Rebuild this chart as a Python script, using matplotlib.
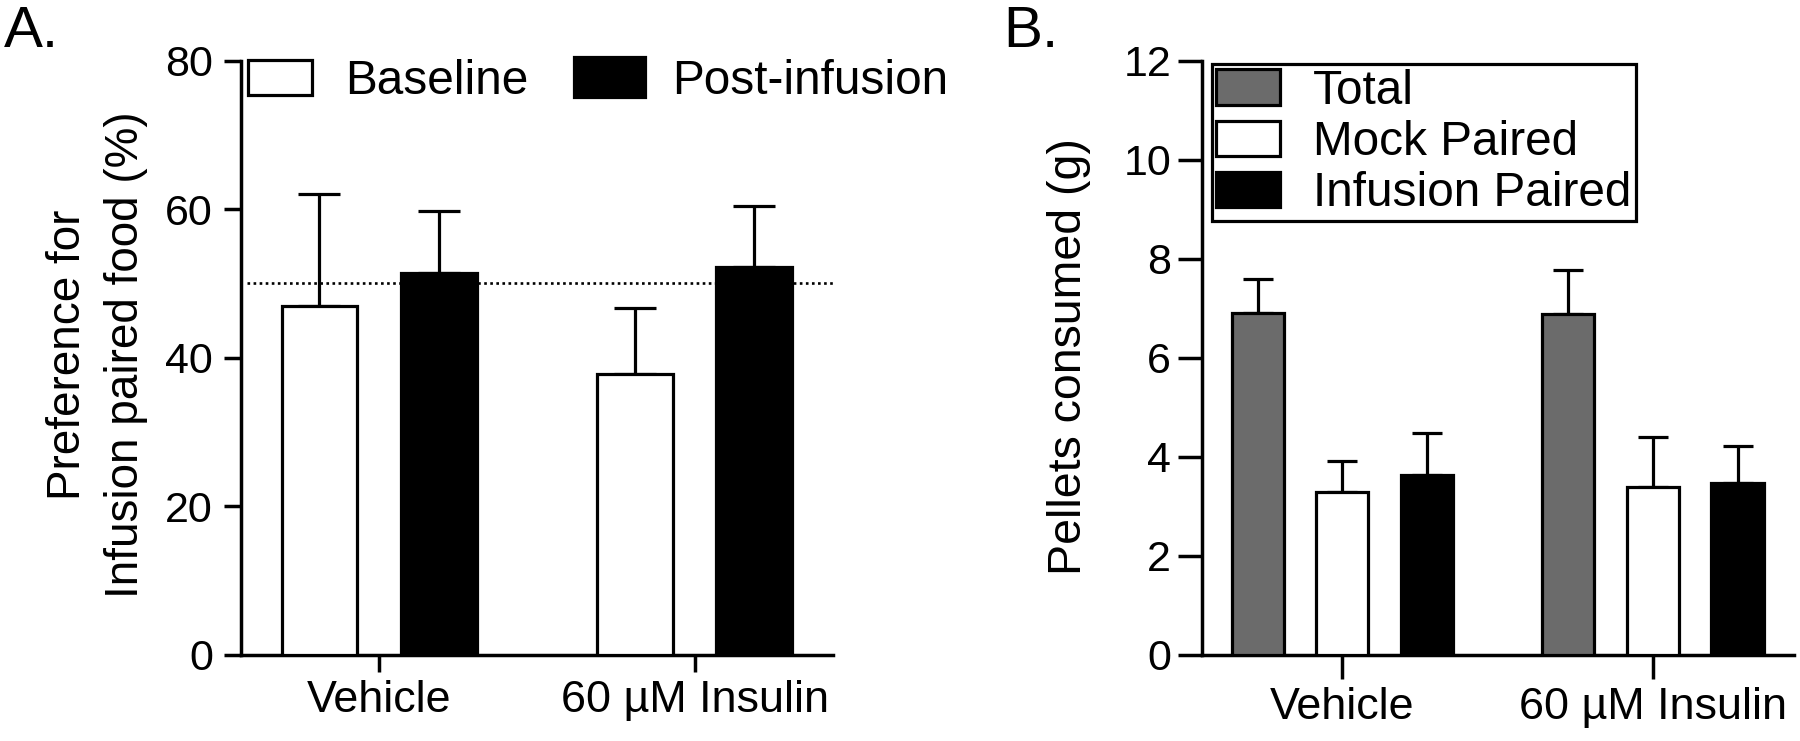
import matplotlib
matplotlib.use('Agg')
import matplotlib.pyplot as plt
import numpy as np
from matplotlib.patches import Patch

plt.rcParams['font.family'] = ['Liberation Sans', 'DejaVu Sans']

# ---------------- data ----------------
groups = ['Vehicle', '60 µM Insulin']

# Panel A: preference for infusion-paired food (%)
pref_baseline = [46.9, 37.8]
pref_baseline_err = [15.2, 8.9]
pref_post = [51.4, 52.2]
pref_post_err = [8.3, 8.2]
chance_level = 50
a_yticks = [0, 20, 40, 60, 80]

# Panel B: pellets consumed (g)
pellets_total = [6.91, 6.88]
pellets_total_err = [0.68, 0.89]
pellets_mock = [3.28, 3.39]
pellets_mock_err = [0.64, 1.00]
pellets_infusion = [3.63, 3.47]
pellets_infusion_err = [0.84, 0.74]
b_yticks = [0, 2, 4, 6, 8, 10, 12]

# ---------------- figure ----------------
W, H = 1800, 741
fig = plt.figure(figsize=(W / 100, H / 100), dpi=100)


def rect(x0, y0, x1, y1):
    return [x0 / W, 1 - y1 / H, (x1 - x0) / W, (y1 - y0) / H]


axA = fig.add_axes(rect(241.5, 60.7, 833, 654.5))
axB = fig.add_axes(rect(1201.8, 60.7, 1794, 654.5))

LW = 2.3
GRAY = '#6b6b6b'
LEGFS = 34.4

for ax in (axA, axB):
    for s in ('top', 'right'):
        ax.spines[s].set_visible(False)
    for s in ('left', 'bottom'):
        ax.spines[s].set_linewidth(LW + 0.2)

x = np.arange(len(groups))

# ---- Panel A ----
wA = 0.24
offA = 0.189
axA.axhline(chance_level, xmin=0.0093, xmax=1, ls=(0, (1, 1.3)), lw=1.9, color='black', zorder=1)
axA.bar(x - offA, pref_baseline, wA, color='white', edgecolor='black', linewidth=LW, zorder=3)
axA.bar(x + offA, pref_post, wA, color='black', edgecolor='black', linewidth=LW, zorder=3)
axA.errorbar(x - offA, pref_baseline, yerr=[np.zeros(2), pref_baseline_err], fmt='none',
             ecolor='black', elinewidth=LW, capsize=14.8, capthick=LW, zorder=2)
axA.errorbar(x + offA, pref_post, yerr=[np.zeros(2), pref_post_err], fmt='none',
             ecolor='black', elinewidth=LW, capsize=14.8, capthick=LW, zorder=2)
axA.set_xlim(-0.436, 1.439)
axA.set_ylim(0, 80)
axA.set_yticks(a_yticks)
axA.set_xticks(x)
axA.set_xticklabels(groups)
axA.tick_params(axis='y', length=12, width=LW + 0.2, pad=8.5, labelsize=31)
axA.tick_params(axis='x', length=12, width=LW + 0.2, pad=6.5, labelsize=32.3)

h_base = Patch(facecolor='white', edgecolor='black', linewidth=LW)
leg1 = axA.legend([h_base], ['Baseline'], loc='upper left', bbox_to_anchor=(248 / W, 1 - 59 / H),
                  bbox_transform=fig.transFigure, frameon=False, fontsize=LEGFS,
                  handlelength=1.33, handleheight=0.76, handletextpad=0.7,
                  borderpad=0, borderaxespad=0)
axA.add_artist(leg1)
h_post = Patch(facecolor='black', edgecolor='black', linewidth=LW)
axA.legend([h_post], ['Post-infusion'], loc='upper left', bbox_to_anchor=(574 / W, 1 - 57 / H),
           bbox_transform=fig.transFigure, frameon=False, fontsize=LEGFS,
           handlelength=1.48, handleheight=0.92, handletextpad=0.58,
           borderpad=0, borderaxespad=0)

# ---- Panel B ----
wB = 0.168
offB = 0.273
axB.bar(x - offB, pellets_total, wB, color=GRAY, edgecolor='black', linewidth=LW, zorder=3)
axB.bar(x, pellets_mock, wB, color='white', edgecolor='black', linewidth=LW, zorder=3)
axB.bar(x + offB, pellets_infusion, wB, color='black', edgecolor='black', linewidth=LW, zorder=3)
for dx, vals, errs in ((-offB, pellets_total, pellets_total_err),
                       (0, pellets_mock, pellets_mock_err),
                       (offB, pellets_infusion, pellets_infusion_err)):
    axB.errorbar(x + dx, vals, yerr=[np.zeros(2), errs], fmt='none', ecolor='black',
                 elinewidth=LW, capsize=10.8, capthick=LW, zorder=2)
axB.set_xlim(-0.453, 1.455)
axB.set_ylim(0, 12)
axB.set_yticks(b_yticks)
axB.set_xticks(x)
axB.set_xticklabels(groups)
axB.tick_params(axis='y', length=17, width=LW + 0.2, pad=5, labelsize=31)
axB.tick_params(axis='x', length=17, width=LW + 0.2, pad=6.5, labelsize=32.3)

hB = [Patch(facecolor=GRAY, edgecolor='black', linewidth=LW),
      Patch(facecolor='white', edgecolor='black', linewidth=LW),
      Patch(facecolor='black', edgecolor='black', linewidth=LW)]
legB = axB.legend(hB, ['Total', 'Mock Paired', 'Infusion Paired'], loc='upper left',
                  bbox_to_anchor=(1211.6 / W, 1 - 64 / H), bbox_transform=fig.transFigure,
                  fontsize=LEGFS, handlelength=1.34, handleheight=0.76, handletextpad=0.68,
                  borderpad=0.1, labelspacing=0.13, borderaxespad=0,
                  fancybox=False, framealpha=1, edgecolor='black')
legB.get_frame().set_linewidth(LW)

# ---- axis labels ----
fig.text(80 / W, 1 - 354.5 / H, 'Preference for', rotation=90, rotation_mode='anchor',
         ha='center', va='baseline', fontsize=33)
fig.text(138 / W, 1 - 354.5 / H, 'Infusion paired food (%)', rotation=90,
         rotation_mode='anchor', ha='center', va='baseline', fontsize=33)
fig.text(1081 / W, 1 - 357 / H, 'Pellets consumed (g)', rotation=90, rotation_mode='anchor',
         ha='center', va='baseline', fontsize=33.5)

# ---- panel letters ----
fig.text(4 / W, 1 - 47 / H, 'A.', fontsize=42, ha='left', va='baseline')
fig.text(1003 / W, 1 - 47 / H, 'B.', fontsize=42, ha='left', va='baseline')

fig.savefig('out.png', dpi=100)
